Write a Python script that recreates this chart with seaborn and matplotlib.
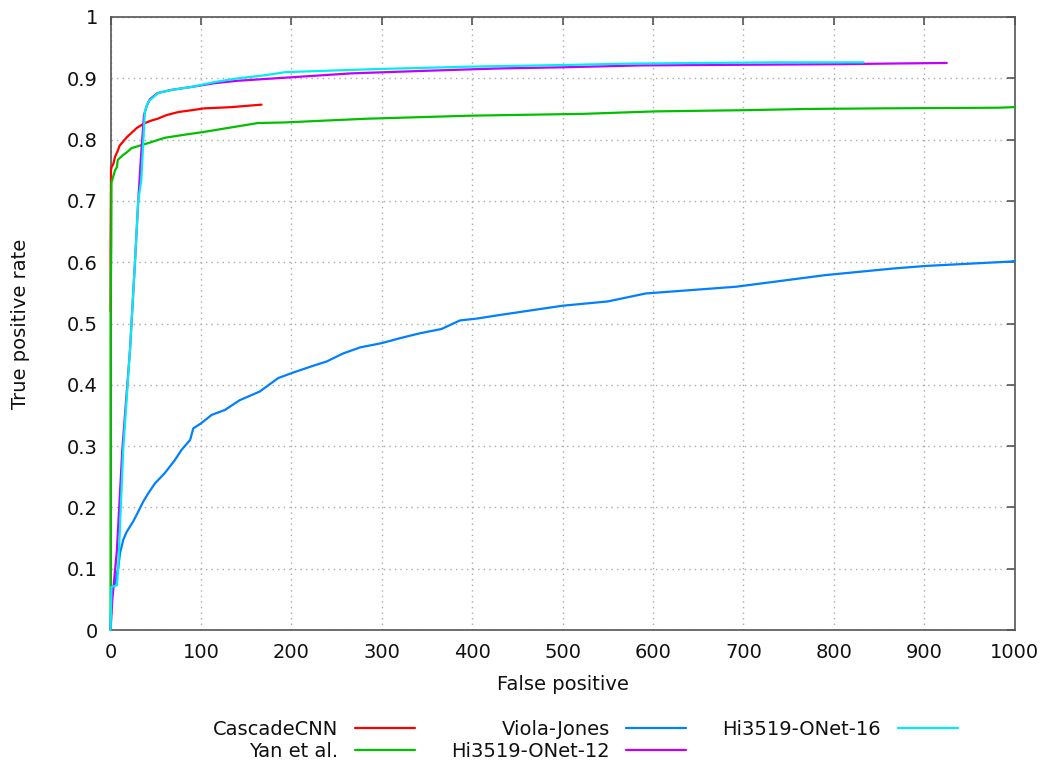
import matplotlib
matplotlib.use("Agg")
import matplotlib.pyplot as plt
import seaborn as sns
import pandas as pd

# ROC points (false positives, true positive rate)
cascade_fp = [0, 0, 0.5, 1, 3, 5, 8, 10, 14, 18, 24, 29, 38, 45, 52, 62, 75, 90, 104, 120, 134, 150, 167]
cascade_tpr = [0.52, 0.62, 0.75, 0.755, 0.76, 0.772, 0.782, 0.79, 0.797, 0.804, 0.812, 0.819, 0.827,
               0.831, 0.834, 0.84, 0.845, 0.848, 0.851, 0.852, 0.853, 0.855, 0.857]

yan_fp = [0, 0, 0.8, 1, 5, 7, 8, 14, 16, 21, 23, 41, 60, 82, 101, 134, 163, 193, 282, 397, 523, 602,
          702, 772, 856, 982, 1000]
yan_tpr = [0.0, 0.515, 0.63, 0.73, 0.75, 0.755, 0.767, 0.775, 0.777, 0.783, 0.786, 0.794, 0.803, 0.808,
           0.812, 0.82, 0.827, 0.828, 0.834, 0.839, 0.842, 0.846, 0.848, 0.85, 0.851, 0.852, 0.853]

vj_fp = [0, 1.2, 5, 6.7, 8.5, 10.4, 14, 17.8, 25, 30.6, 36, 41.7, 49, 60, 71, 78.6, 88, 91.5, 99,
         112, 126.5, 143, 165, 185.5, 202, 224, 239, 257, 276, 300, 320, 342, 366, 386.5, 405, 431,
         500, 550, 592, 692, 791, 868, 903, 995, 1000]
vj_tpr = [0.0, 0.068, 0.073, 0.09, 0.101, 0.125, 0.147, 0.16, 0.177, 0.193, 0.209, 0.223, 0.239,
          0.256, 0.277, 0.294, 0.31, 0.329, 0.336, 0.351, 0.359, 0.375, 0.389, 0.411, 0.42, 0.431,
          0.438, 0.451, 0.461, 0.468, 0.476, 0.484, 0.491, 0.505, 0.508, 0.514, 0.529, 0.536, 0.549,
          0.56, 0.579, 0.59, 0.594, 0.601, 0.602]

onet12_fp = [0, 2, 7, 13, 21.5, 27, 30.6, 34, 37, 40, 43.6, 52, 67, 90, 115, 141, 193, 266, 344,
             428, 502, 586, 691, 807, 859, 925]
onet12_tpr = [0.0, 0.05, 0.13, 0.294, 0.457, 0.6, 0.7, 0.78, 0.84, 0.855, 0.866, 0.876, 0.881,
              0.886, 0.892, 0.896, 0.901, 0.908, 0.912, 0.916, 0.918, 0.921, 0.922, 0.923, 0.924, 0.925]

onet16_fp = [0, 1, 7, 8.5, 14, 21.5, 27, 30.6, 34, 38, 41.7, 52.8, 67.6, 89.7, 115.5, 141, 171,
             193, 292, 397, 513, 576, 738, 833]
onet16_tpr = [0.0, 0.07, 0.073, 0.1, 0.294, 0.457, 0.6, 0.7, 0.734, 0.846, 0.862, 0.876, 0.881,
              0.886, 0.894, 0.9, 0.905, 0.91, 0.915, 0.919, 0.922, 0.924, 0.926, 0.926]

methods = ["CascadeCNN", "Yan et al.", "Viola-Jones", "Hi3519-ONet-12", "Hi3519-ONet-16"]
colors = ["#ff0000", "#00c000", "#0080ff", "#c000ff", "#00eeee"]

series = [(cascade_fp, cascade_tpr), (yan_fp, yan_tpr), (vj_fp, vj_tpr),
          (onet12_fp, onet12_tpr), (onet16_fp, onet16_tpr)]
frames = []
for name, (fp, tpr) in zip(methods, series):
    frames.append(pd.DataFrame({"fp": fp, "tpr": tpr, "method": name}))
df = pd.concat(frames, ignore_index=True)

sns.set_style("white")
plt.rcParams['font.family'] = ['DejaVu Sans']

fig = plt.figure(figsize=(10.44, 7.62), dpi=100)
ax = fig.add_axes([0.1059, 0.1732, 0.9718 - 0.1059, 0.9777 - 0.1732])

sns.lineplot(data=df, x="fp", y="tpr", hue="method", hue_order=methods,
             palette=dict(zip(methods, colors)), estimator=None, sort=False,
             linewidth=1.6, ax=ax, legend=False, zorder=3)
for ln in ax.get_lines():
    ln.set_clip_on(False)

ax.set_xlim(0, 1000)
ax.set_ylim(0, 1)
ax.set_xticks(range(0, 1001, 100))
ax.set_yticks([i / 10 for i in range(11)])
ax.set_yticklabels(["0"] + [f"{i / 10:.1f}" for i in range(1, 10)] + ["1"])
ax.grid(True, color="#aaaaaa", linestyle=(0, (1, 3)), linewidth=1.0)
ax.set_axisbelow(True)
for s in ax.spines.values():
    s.set_color("#555555")
    s.set_linewidth(1.2)
ax.tick_params(direction="in", length=6, width=1.2, color="#555555",
               top=True, right=True, labelsize=14, pad=9, labelcolor="#111111")
ax.set_xlabel("False positive", fontsize=14, labelpad=10, color="#111111")
ax.set_ylabel("True positive rate", fontsize=14, labelpad=27, color="#111111")

handles = [plt.Line2D([], [], color=c, linewidth=1.6) for c in colors]
leg = fig.legend(handles, methods, ncol=3, markerfirst=False, frameon=False,
                 loc="upper left", bbox_to_anchor=(0.204, 0.055),
                 borderpad=0, borderaxespad=0, handlelength=3.1, handletextpad=0.85,
                 columnspacing=1.85, labelspacing=0.15,
                 prop={"family": "DejaVu Sans", "size": 14})
for t in leg.get_texts():
    t.set_color("#111111")

fig.savefig("out.png", dpi=100)
